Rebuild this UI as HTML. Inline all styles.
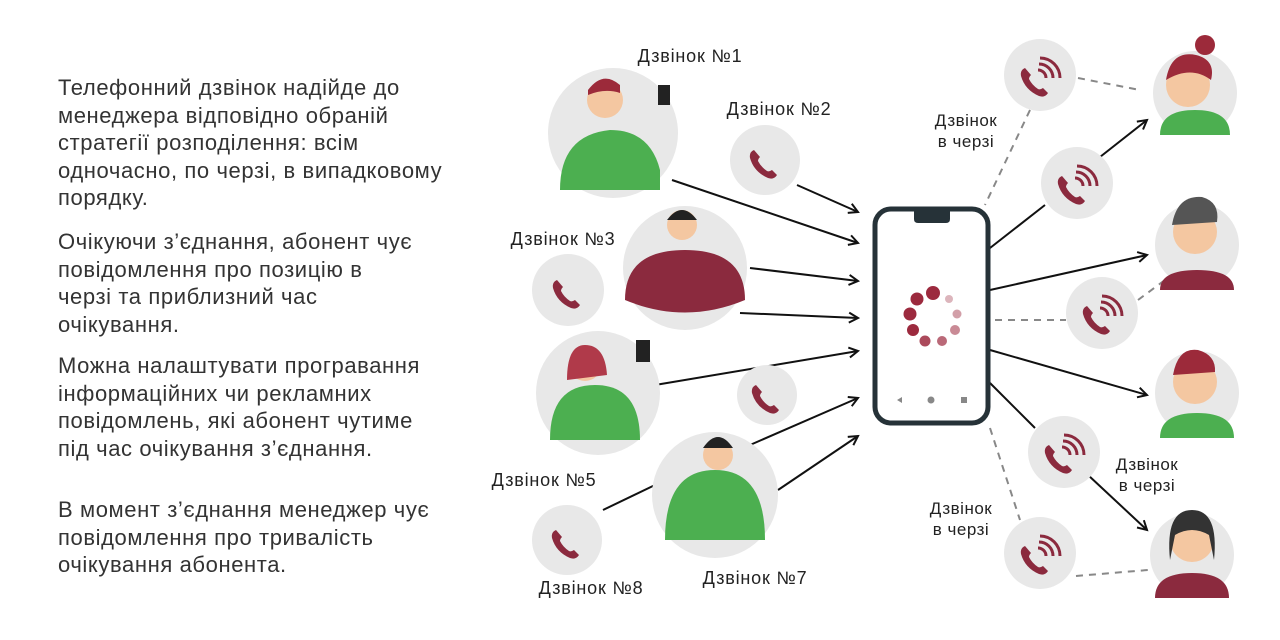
<!DOCTYPE html>
<html><head><meta charset="utf-8"><style>
body{margin:0;width:1280px;height:640px;background:#fff;overflow:hidden;font-family:"Liberation Sans",sans-serif}
.t{position:absolute;left:58px;font-size:22px;letter-spacing:0.6px;line-height:27.5px;color:#333;margin:0;white-space:nowrap}
svg{position:absolute;left:0;top:0}
</style></head><body>
<p class="t" style="top:74px">Телефонний дзвінок надійде до<br>менеджера відповідно обраній<br>стратегії розподілення: всім<br>одночасно, по черзі, в випадковому<br>порядку.</p>
<p class="t" style="top:228px">Очікуючи з’єднання, абонент чує<br>повідомлення про позицію в<br>черзі та приблизний час<br>очікування.</p>
<p class="t" style="top:352px">Можна налаштувати програвання<br>інформаційних чи рекламних<br>повідомлень, які абонент чутиме<br>під час очікування з’єднання.</p>
<p class="t" style="top:496px">В момент з’єднання менеджер чує<br>повідомлення про тривалість<br>очікування абонента.</p>
<svg width="1280" height="640" viewBox="0 0 1280 640">
<defs>
<marker id="a" markerWidth="12" markerHeight="12" refX="10" refY="6" orient="auto" markerUnits="userSpaceOnUse"><path d="M1,1 L10,6 L1,11" fill="none" stroke="#111" stroke-width="2"/></marker>
<g id="ph"><path d="M-11,-12 q-5,2 -4,8 q4,14 18,20 q6,2 9,-3 l-5,-5 q-3,2 -5,1 q-6,-4 -9,-10 q0,-2 2,-4z" fill="#8b2a3e"/></g>
<g id="ph2"><use href="#ph"/><path d="M2,-10 a8,8 0 0 1 8,8 M3,-16 a14,14 0 0 1 14,14 M4,-22 a20,20 0 0 1 20,20" fill="none" stroke="#8b2a3e" stroke-width="3"/></g>
</defs>
<g stroke="#111" stroke-width="2" fill="none">
<line x1="672" y1="180" x2="858" y2="243" marker-end="url(#a)"/>
<line x1="797" y1="185" x2="858" y2="212" marker-end="url(#a)"/>
<line x1="750" y1="268" x2="858" y2="281" marker-end="url(#a)"/>
<line x1="740" y1="313" x2="858" y2="318" marker-end="url(#a)"/>
<line x1="655" y1="385" x2="858" y2="351" marker-end="url(#a)"/>
<line x1="750" y1="445" x2="858" y2="398" marker-end="url(#a)"/>
<line x1="778" y1="490" x2="858" y2="436" marker-end="url(#a)"/>
<line x1="603" y1="510" x2="655" y2="485"/>
<line x1="990" y1="248" x2="1045" y2="205"/>
<line x1="1100" y1="157" x2="1147" y2="120" marker-end="url(#a)"/>
<line x1="990" y1="290" x2="1147" y2="255" marker-end="url(#a)"/>
<line x1="990" y1="350" x2="1147" y2="395" marker-end="url(#a)"/>
<line x1="990" y1="383" x2="1035" y2="428"/>
<line x1="1088" y1="475" x2="1147" y2="530" marker-end="url(#a)"/>
</g>
<g stroke="#888" stroke-width="2" stroke-dasharray="7,6" fill="none">
<line x1="1078" y1="78" x2="1140" y2="90"/>
<line x1="1030" y1="110" x2="985" y2="205"/>
<line x1="995" y1="320" x2="1066" y2="320"/>
<line x1="1138" y1="300" x2="1165" y2="280"/>
<line x1="990" y1="428" x2="1020" y2="520"/>
<line x1="1076" y1="576" x2="1148" y2="570"/>
</g>
<g fill="#e8e8e8">
<circle cx="613" cy="133" r="65"/><circle cx="765" cy="160" r="35"/>
<circle cx="685" cy="268" r="62"/><circle cx="568" cy="290" r="36"/>
<circle cx="598" cy="393" r="62"/><circle cx="767" cy="395" r="30"/>
<circle cx="715" cy="495" r="63"/><circle cx="567" cy="540" r="35"/>
<circle cx="1040" cy="75" r="36"/><circle cx="1077" cy="183" r="36"/>
<circle cx="1102" cy="313" r="36"/><circle cx="1064" cy="452" r="36"/>
<circle cx="1040" cy="553" r="36"/>
<circle cx="1195" cy="93" r="42"/><circle cx="1197" cy="245" r="42"/>
<circle cx="1197" cy="393" r="42"/><circle cx="1192" cy="555" r="42"/>
</g>
<path d="M560,190 q0,-55 50,-60 q40,0 50,40 l0,20z" fill="#4caf50"/><circle cx="605" cy="100" r="18" fill="#f4c7a1"/><path d="M588,90 q15,-20 32,-5 l0,8 q-15,-5 -32,2z" fill="#9c2a3a"/><rect x="658" y="85" width="12" height="20" fill="#222"/>
<path d="M625,300 q0,-50 60,-50 q60,0 60,50 q-60,25 -120,0z" fill="#8b2a3e"/><circle cx="682" cy="225" r="15" fill="#f4c7a1"/><path d="M667,220 q15,-20 30,0 z" fill="#222"/>
<path d="M550,440 q0,-55 45,-55 q45,0 45,55z" fill="#4caf50"/><circle cx="585" cy="365" r="16" fill="#f4c7a1"/><path d="M567,380 q0,-35 18,-35 q20,0 22,30 z" fill="#b03a4a"/><rect x="636" y="340" width="14" height="22" fill="#222"/>
<path d="M665,540 q0,-70 50,-70 q50,0 50,70z" fill="#4caf50"/><circle cx="718" cy="455" r="15" fill="#f4c7a1"/><path d="M703,448 q15,-22 30,0z" fill="#222"/>
<g><path d="M1160,135 q0,-25 35,-25 q35,0 35,25z" fill="#4caf50"/><circle cx="1188" cy="85" r="22" fill="#f4c7a1"/><path d="M1166,80 q5,-30 30,-25 q20,5 15,25 q-20,-15 -45,0z" fill="#9c2a3a"/><circle cx="1205" cy="45" r="10" fill="#9c2a3a"/></g>
<g><path d="M1160,290 q0,-20 37,-20 q37,0 37,20z" fill="#8b2a3e"/><circle cx="1195" cy="232" r="22" fill="#f4c7a1"/><path d="M1172,225 q5,-30 30,-28 q18,5 15,25z" fill="#555"/></g>
<g><path d="M1160,438 q0,-25 37,-25 q37,0 37,25z" fill="#4caf50"/><circle cx="1195" cy="382" r="22" fill="#f4c7a1"/><path d="M1173,375 q5,-28 25,-25 q18,5 17,22z" fill="#9c2a3a"/></g>
<g><path d="M1155,598 q0,-25 37,-25 q37,0 37,25z" fill="#8b2a3e"/><circle cx="1192" cy="540" r="22" fill="#f4c7a1"/><path d="M1170,560 q-5,-50 22,-50 q27,0 22,50 l-5,-25 q-17,-10 -34,0z" fill="#333"/></g>
<use href="#ph" x="765" y="162"/><use href="#ph" x="568" y="292"/><use href="#ph" x="767" y="397"/><use href="#ph" x="567" y="542"/>
<use href="#ph2" x="1036" y="80"/><use href="#ph2" x="1073" y="188"/><use href="#ph2" x="1098" y="318"/><use href="#ph2" x="1060" y="457"/><use href="#ph2" x="1036" y="558"/>
<rect x="875" y="209" width="113" height="214" rx="16" fill="#fff" stroke="#263238" stroke-width="5"/>
<path d="M914,210 h36 v9 q0,4 -4,4 h-28 q-4,0 -4,-4z" fill="#263238"/>
<g fill="#9c2a3e"><circle cx="933" cy="293" r="7"/><circle cx="917" cy="299" r="6.5"/><circle cx="910" cy="314" r="6.5"/><circle cx="913" cy="330" r="6"/><circle cx="925" cy="341" r="5.5" opacity=".85"/><circle cx="942" cy="341" r="5" opacity=".7"/><circle cx="955" cy="330" r="5" opacity=".55"/><circle cx="957" cy="314" r="4.5" opacity=".45"/><circle cx="949" cy="299" r="4" opacity=".35"/></g>
<g fill="#888"><path d="M897,400 l5,-3 v6z"/><circle cx="931" cy="400" r="3.5"/><rect x="961" y="397" width="6" height="6"/></g>
<g font-family="Liberation Sans,sans-serif" font-size="18" letter-spacing="0.8" fill="#222" text-anchor="middle">
<text x="690" y="62">Дзвінок  №1</text><text x="779" y="115">Дзвінок  №2</text>
<text x="563" y="245">Дзвінок  №3</text><text x="544" y="486">Дзвінок №5</text>
<text x="591" y="594">Дзвінок  №8</text><text x="755" y="584">Дзвінок  №7</text>
<text x="966" y="126" font-size="17" letter-spacing="0.5">Дзвінок</text><text x="966" y="147" font-size="17" letter-spacing="0.5">в черзі</text>
<text x="1147" y="470" font-size="17" letter-spacing="0.5">Дзвінок</text><text x="1147" y="491" font-size="17" letter-spacing="0.5">в черзі</text>
<text x="961" y="514" font-size="17" letter-spacing="0.5">Дзвінок</text><text x="961" y="535" font-size="17" letter-spacing="0.5">в черзі</text>
</g>
</svg>
</body></html>
